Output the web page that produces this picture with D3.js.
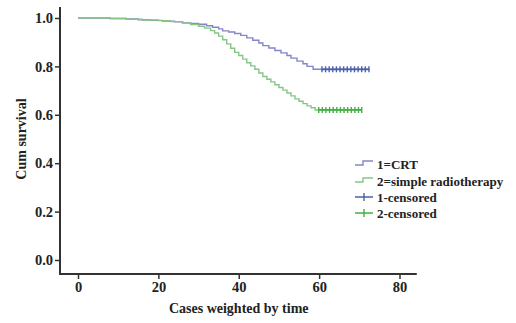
<!DOCTYPE html>
<html>
<head>
<meta charset="utf-8">
<script src="https://cdn.jsdelivr.net/npm/d3@7"></script>
<style>
  body { margin: 0; background: #fff; }
  svg text { font-family: "Liberation Serif", "Times New Roman", serif; font-weight: bold; fill: #222; }
</style>
</head>
<body>
<div id="chart"></div>
<script>
// step points [time, survival]
const crtSteps = [
  [0, 1.0], [8, 0.998], [12, 0.996], [15, 0.993], [18, 0.990], [21, 0.987],
  [24, 0.984], [26, 0.980], [28, 0.977], [30, 0.974], [32, 0.968], [33.5, 0.962],
  [35, 0.955], [36, 0.947], [37.5, 0.942], [39, 0.936], [40.5, 0.928], [42, 0.918],
  [43.5, 0.908], [45, 0.897], [46, 0.886], [47.5, 0.876], [49, 0.866], [50.5, 0.856],
  [52, 0.845], [53, 0.834], [54.5, 0.822], [56, 0.811], [57, 0.800], [58.5, 0.788]
];
const crtEnd = 72.5;
const crtCensored = [60.7, 61.6, 62.5, 63.4, 64.3, 65.2, 66.1, 67.0, 67.9, 68.8, 69.7, 70.6, 71.5, 72.4];

const rtSteps = [
  [0, 1.0], [8, 0.998], [12, 0.995], [16, 0.992], [20, 0.989], [23, 0.985],
  [26, 0.979], [28, 0.973], [30, 0.966], [31.5, 0.958], [33, 0.948], [34, 0.938],
  [35, 0.925], [36, 0.910], [37, 0.893], [38, 0.875], [39, 0.858], [40, 0.845],
  [41, 0.830], [42, 0.815], [43, 0.802], [44, 0.788], [45, 0.773], [46, 0.758],
  [47, 0.747], [48, 0.736], [49, 0.724], [50, 0.713], [51, 0.702], [52, 0.690],
  [53, 0.678], [54, 0.666], [55, 0.656], [56, 0.646], [57, 0.637], [58, 0.629],
  [59, 0.620]
];
const rtEnd = 70.6;
const rtCensored = [59.9, 60.8, 61.7, 62.6, 63.5, 64.4, 65.3, 66.2, 67.1, 68.0, 68.9, 69.8, 70.6];

const xTicks = [0, 20, 40, 60, 80];
const yTicks = [0, 0.2, 0.4, 0.6, 0.8, 1.0];
const legendLabels = ['1=CRT', '2=simple radiotherapy', '1-censored', '2-censored'];

const blue = '#8486c6', blueDark = '#4a62a8';
const green = '#86c586', greenDark = '#44b044';

const W = 516, H = 323;
const svg = d3.select('#chart').append('svg').attr('width', W).attr('height', H);

const x = d3.scaleLinear().domain([0, 80]).range([78, 399.5]);
const y = d3.scaleLinear().domain([0, 1]).range([260, 18]);

const axisColor = '#333';

// axes
const yAxis = svg.append('g').attr('transform', `translate(60,0)`)
  .call(d3.axisLeft(y).tickValues(yTicks).tickFormat(d3.format('.1f')).tickSize(5).tickPadding(2));
yAxis.select('.domain').remove();

const xAxis = svg.append('g').attr('transform', `translate(0,274)`)
  .call(d3.axisBottom(x).tickValues(xTicks).tickSize(5).tickPadding(3));
xAxis.select('.domain').remove();

svg.selectAll('.tick line').attr('stroke', axisColor).attr('stroke-width', 1.5);
svg.selectAll('.tick text').style('font-size', '14.5px').attr('fill', '#222');

svg.append('line').attr('x1', 60).attr('x2', 60).attr('y1', y(1.045)).attr('y2', 275)
  .attr('stroke', axisColor).attr('stroke-width', 2);
svg.append('line').attr('x1', 59).attr('x2', x(84.3)).attr('y1', 274).attr('y2', 274)
  .attr('stroke', axisColor).attr('stroke-width', 2);

// axis titles
svg.append('text').attr('x', x(40)).attr('y', 313).attr('text-anchor', 'middle')
  .style('font-size', '14px').text('Cases weighted by time');
svg.append('text').attr('transform', `translate(26,${y(0.5)}) rotate(-90)`).attr('text-anchor', 'middle')
  .style('font-size', '14px').text('Cum survival');

// survival curves
const stepLine = d3.line().x(d => x(d[0])).y(d => y(d[1])).curve(d3.curveStepAfter);

function drawCurve(steps, end, censored, color, markColor) {
  const last = steps[steps.length - 1];
  const pts = steps.concat([[end, last[1]]]);
  svg.append('path').attr('d', stepLine(pts)).attr('fill', 'none')
    .attr('stroke', color).attr('stroke-width', 1.4);
  svg.append('line').attr('x1', x(censored[0])).attr('x2', x(censored[censored.length - 1]))
    .attr('y1', y(last[1])).attr('y2', y(last[1]))
    .attr('stroke', markColor).attr('stroke-width', 1.8);
  svg.append('g').selectAll('line').data(censored).join('line')
    .attr('x1', d => x(d)).attr('x2', d => x(d))
    .attr('y1', y(last[1]) - 3).attr('y2', y(last[1]) + 3)
    .attr('stroke', markColor).attr('stroke-width', 1.4);
}

drawCurve(crtSteps, crtEnd, crtCensored, blue, blueDark);
drawCurve(rtSteps, rtEnd, rtCensored, green, greenDark);

// legend
const legendY = [164, 181, 197, 213];
const legendColors = [blue, green, blueDark, greenDark];
const lg = svg.append('g');
legendLabels.forEach((label, i) => {
  const yy = legendY[i];
  const c = legendColors[i];
  if (i < 2) {
    lg.append('path')
      .attr('d', `M355,${yy + 1}H363V${yy - 3}H373`)
      .attr('fill', 'none').attr('stroke', c).attr('stroke-width', 1.4);
  } else {
    lg.append('path')
      .attr('d', `M355,${yy}H373M364,${yy - 4}V${yy + 4}`)
      .attr('fill', 'none').attr('stroke', c).attr('stroke-width', 1.4);
  }
  lg.append('text').attr('x', 377).attr('y', yy + 4.5)
    .style('font-size', '13px').text(label);
});
</script>
</body>
</html>
